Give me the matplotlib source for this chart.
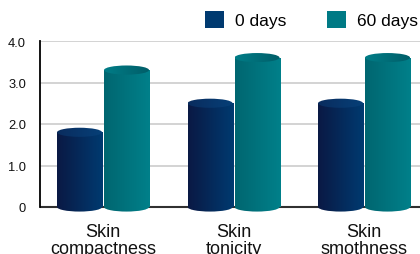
import numpy as np
import matplotlib
matplotlib.use("Agg")
import matplotlib.pyplot as plt
from matplotlib.colors import LinearSegmentedColormap
from matplotlib.patches import Ellipse, Patch

# data
categories = ['Skin\ncompactness', 'Skin\ntonicity', 'Skin\nsmothness']
day0 = [1.8, 2.5, 2.5]
day60 = [3.3, 3.6, 3.6]
series_labels = ['0 days', '60 days']
yticks = [0, 1, 2, 3, 4]
ytick_labels = ['0', '1.0', '2.0', '3.0', '4.0']

plt.rcParams['font.family'] = ['Liberation Sans', 'DejaVu Sans']

# colours: body gradient (left -> right), cap gradient, legend swatch
styles = [
    dict(body=('#0a1944', '#003a70'), top=('#0a2c5e', '#064078'), solid='#003a70'),
    dict(body=('#006670', '#00808a'), top=('#007d87', '#005d68'), solid='#007a85'),
]

fig = plt.figure(figsize=(4.2, 2.55), dpi=100)
ymin = -0.16
px_per_unit = 41.5
bottom_px = 208 + (-ymin) * px_per_unit
ax = fig.add_axes([40 / 420, (255 - bottom_px) / 255, 380 / 420, (bottom_px - 42) / 255])

x = np.arange(len(categories))
w = 0.345
off = 0.18
cap_h = 0.22
grad = np.linspace(0, 1, 128).reshape(1, -1)


def fill_gradient(patch, x0, x1, y0, y1, colors, z):
    cmap = LinearSegmentedColormap.from_list('g', list(colors))
    im = ax.imshow(grad, cmap=cmap, extent=(x0, x1, y0, y1), aspect='auto',
                   interpolation='bilinear', zorder=z)
    im.set_clip_path(patch)


for i, vals in enumerate([day0, day60]):
    st = styles[i]
    pos = x + (i * 2 - 1) * off
    bars = ax.bar(pos, vals, width=w, color=st['solid'], zorder=3, linewidth=0)
    for b, xc, v in zip(bars, pos, vals):
        b.set_alpha(0)
        rect = plt.Rectangle((xc - w / 2, 0), w, v, transform=ax.transData,
                             facecolor='none', edgecolor='none')
        ax.add_patch(rect)
        fill_gradient(rect, xc - w / 2, xc + w / 2, 0, v, st['body'], 3)
        bot = Ellipse((xc, 0), w, cap_h, facecolor='none', edgecolor='none')
        ax.add_patch(bot)
        fill_gradient(bot, xc - w / 2, xc + w / 2, -cap_h / 2, 0, st['body'], 3)
        top = Ellipse((xc, v), w, cap_h, facecolor='none', edgecolor='none')
        ax.add_patch(top)
        fill_gradient(top, xc - w / 2, xc + w / 2, v - cap_h / 2, v + cap_h / 2, st['top'], 4)

ax.set_xlim(-0.483, 2.429)
ax.set_ylim(ymin, 4)

for t in yticks[1:]:
    ax.axhline(t, color='#c8c8c8', linewidth=1.1, zorder=1)
ax.axhline(0, color='#303030', linewidth=1.5, zorder=2)

for s in ['top', 'right', 'bottom']:
    ax.spines[s].set_visible(False)
ax.spines['left'].set_bounds(0, 4)
ax.spines['left'].set_color('black')
ax.spines['left'].set_linewidth(1.3)

ax.set_yticks(yticks)
ax.set_yticklabels(ytick_labels, fontsize=9.3, color='#111111')
ax.set_xticks(x)
ax.set_xticklabels(categories, fontsize=13, color='#111111', linespacing=0.95)
ax.tick_params(axis='y', length=0, pad=10)
ax.tick_params(axis='x', length=0, pad=7)

handles = [Patch(facecolor=styles[i]['solid'], label=series_labels[i]) for i in range(2)]
fig.legend(handles=handles, loc='upper left', bbox_to_anchor=(205 / 420, 1 - 12 / 255),
           ncol=2, frameon=False, fontsize=12.5, handlelength=1.09, handleheight=1.09,
           handletextpad=0.63, columnspacing=2.36, borderpad=0, borderaxespad=0)

fig.savefig('out.png', dpi=100)
